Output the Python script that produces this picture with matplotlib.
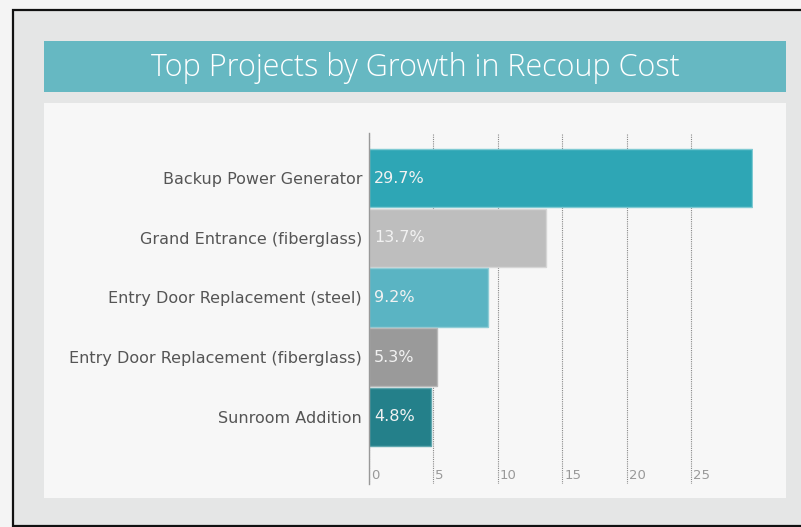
import matplotlib.pyplot as plt
from matplotlib.patches import Rectangle
from matplotlib.transforms import ScaledTranslation

projects = [
    "Backup Power Generator",
    "Grand Entrance (fiberglass)",
    "Entry Door Replacement (steel)",
    "Entry Door Replacement (fiberglass)",
    "Sunroom Addition",
]
growth = [29.7, 13.7, 9.2, 5.3, 4.8]
bar_colors = ["#2ea6b5", "#bebebe", "#5ab4c3", "#9a9a9a", "#24808a"]
edge_colors = ["#7fcad3", "#d6d6d6", "#8fcdd6", "#b8b8b8", "#5fa7ae"]
xticks = [0, 5, 10, 15, 20, 25]
title = "Top Projects by Growth in Recoup Cost"

W, H = 801, 527
narrow = ["Liberation Sans Narrow", "DejaVu Sans"]

fig = plt.figure(figsize=(W / 100, H / 100), dpi=100)
fig.patch.set_facecolor("#f4f4f4")


def box(x0, y0, x1, y1, **kw):
    # pixel box (top-left origin) -> figure rectangle, kept under the axes
    fig.patches.append(Rectangle((x0 / W, 1 - y1 / H), (x1 - x0) / W, (y1 - y0) / H,
                                 transform=fig.transFigure, figure=fig, zorder=-10, **kw))


box(13, 10, 810, 526, facecolor="#e5e6e6", edgecolor="#111111", linewidth=1.6)
box(44, 41, 786, 92, facecolor="#66b8c2", edgecolor="none")
box(44, 103, 786, 498, facecolor="#f7f7f7", edgecolor="none")
fig.text((44 + 786) / 2 / W, 1 - 68 / H, title, ha="center", va="center",
         color="white", fontsize=22, family="Open Sans", fontweight="light")

# axes area in pixels
ax_l, ax_r, ax_t, ax_b = 369, 753, 133, 484
ax = fig.add_axes([ax_l / W, 1 - ax_b / H, (ax_r - ax_l) / W, (ax_b - ax_t) / H])
ax.set_facecolor("none")

ypos = list(range(len(projects)))
ax.barh(ypos, growth, height=0.975, color=bar_colors, edgecolor=edge_colors,
        linewidth=1, zorder=2)
for y, v in zip(ypos, growth):
    ax.text(0.4, y, f"{v}%", va="center", ha="left", color="#f2f2f2",
            fontsize=11.5, family=narrow, zorder=3)

ax.set_xlim(0, 29.8)
ax.set_ylim(5.13, -0.76)
ax.set_yticks(ypos)
ax.set_yticklabels(projects, family=narrow, fontsize=11.5, color="#555555")
ax.tick_params(axis="y", length=0, pad=5)

ax.set_xticks(xticks)
ax.set_xticklabels([str(t) for t in xticks], family=narrow, fontsize=9.5,
                   color="#999999", ha="left")
ax.tick_params(axis="x", length=0, pad=-11)
shift = ScaledTranslation(2 / 100, 0, fig.dpi_scale_trans)
for lbl in ax.get_xticklabels():
    lbl.set_transform(lbl.get_transform() + shift)

ax.grid(axis="x", linestyle=(0, (1, 1)), color="#888888", linewidth=0.8, zorder=1)
ax.set_axisbelow(True)
for s in ["top", "right", "bottom"]:
    ax.spines[s].set_visible(False)
ax.spines["left"].set_color("#999999")
ax.spines["left"].set_linewidth(1)

fig.savefig("out.png", dpi=100, facecolor=fig.get_facecolor())
